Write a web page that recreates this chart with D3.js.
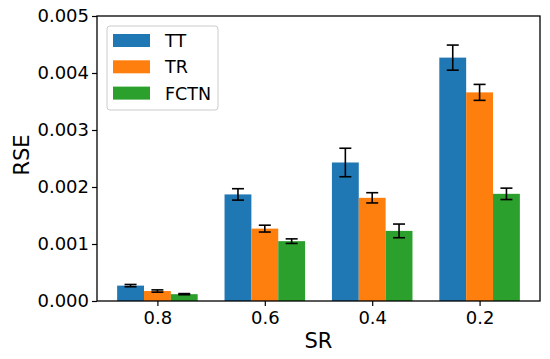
<!DOCTYPE html>
<html>
<head>
<meta charset="utf-8">
<script src="https://cdn.jsdelivr.net/npm/d3@7"></script>
<style>
  body { margin: 0; background: #fff; }
  text { font-family: "DejaVu Sans", sans-serif; }
</style>
</head>
<body>
<svg id="chart"></svg>
<script>
var width = 550, height = 359;

// data
var categories = ["0.8", "0.6", "0.4", "0.2"];
var series = ["TT", "TR", "FCTN"];
var colors = ["#1f77b4", "#ff7f0e", "#2ca02c"];
var ttValues = [0.00027, 0.00187, 0.00243, 0.00427];
var ttErrors = [0.00002, 0.00010, 0.00025, 0.00022];
var trValues = [0.000175, 0.00127, 0.00181, 0.00366];
var trErrors = [0.00002, 0.00006, 0.00009, 0.00014];
var fctnValues = [0.00012, 0.00105, 0.00123, 0.00188];
var fctnErrors = [0.00001, 0.00004, 0.00012, 0.00010];
var yTicks = [0, 0.001, 0.002, 0.003, 0.004, 0.005];

var values = [ttValues, trValues, fctnValues];
var errors = [ttErrors, trErrors, fctnErrors];

var plotL = 97, plotR = 540, plotT = 16, plotB = 301;

var svg = d3.select("#chart")
	.attr("width", width)
	.attr("height", height);

// matplotlib style: group index with 0.25 wide bars and 5% margins
var x = d3.scaleLinear()
	.domain([-0.5625, categories.length - 1 + 0.5625])
	.range([plotL, plotR]);
var y = d3.scaleLinear()
	.domain([0, 0.005])
	.range([plotB, plotT]);

var barW = 0.25;

var rows = [];
series.forEach(function (s, si) {
	categories.forEach(function (c, ci) {
		rows.push({ s: si, c: ci, v: values[si][ci], e: errors[si][ci] });
	});
});

svg.selectAll(".bar")
	.data(rows)
	.enter()
	.append("rect")
	.attr("class", "bar")
	.attr("x", d => x(d.c + (d.s - 1) * barW - barW / 2))
	.attr("width", d => x(barW) - x(0))
	.attr("y", d => y(d.v))
	.attr("height", d => y(0) - y(d.v))
	.attr("fill", d => colors[d.s]);

// error bars
var err = svg.selectAll(".err")
	.data(rows)
	.enter()
	.append("g")
	.attr("class", "err")
	.attr("stroke", "#000")
	.attr("stroke-width", 1.6);
err.append("line")
	.attr("x1", d => x(d.c + (d.s - 1) * barW))
	.attr("x2", d => x(d.c + (d.s - 1) * barW))
	.attr("y1", d => y(d.v - d.e))
	.attr("y2", d => y(d.v + d.e));
[-1, 1].forEach(function (k) {
	err.append("line")
		.attr("x1", d => x(d.c + (d.s - 1) * barW) - 6)
		.attr("x2", d => x(d.c + (d.s - 1) * barW) + 6)
		.attr("y1", d => y(d.v + k * d.e))
		.attr("y2", d => y(d.v + k * d.e));
});

// axes
var yAxis = svg.append("g")
	.attr("transform", "translate(" + plotL + ",0)")
	.call(d3.axisLeft(y).tickValues(yTicks).tickFormat(d3.format(".3f")).tickSize(5).tickPadding(3));
var xAxis = svg.append("g")
	.attr("transform", "translate(0," + plotB + ")")
	.call(d3.axisBottom(x).tickValues(d3.range(categories.length)).tickFormat(i => categories[i]).tickSize(5).tickPadding(5));
[yAxis, xAxis].forEach(function (g) {
	g.select(".domain").remove();
	g.selectAll("line").attr("stroke", "#000").attr("stroke-width", 1.2);
	g.selectAll("text").attr("font-size", "18px").attr("fill", "#000")
		.attr("font-family", "DejaVu Sans");
});

svg.append("rect")
	.attr("x", plotL)
	.attr("y", plotT)
	.attr("width", plotR - plotL)
	.attr("height", plotB - plotT)
	.attr("fill", "none")
	.attr("stroke", "#000")
	.attr("stroke-width", 1.3);

svg.append("text")
	.attr("transform", "translate(29,155) rotate(-90)")
	.attr("text-anchor", "middle")
	.attr("font-size", "21px")
	.text("RSE");
svg.append("text")
	.attr("x", (plotL + plotR) / 2)
	.attr("y", 348)
	.attr("text-anchor", "middle")
	.attr("font-size", "21px")
	.text("SR");

// legend
var legend = svg.append("g");
legend.append("rect")
	.attr("x", 107)
	.attr("y", 26)
	.attr("width", 111)
	.attr("height", 84)
	.attr("rx", 3)
	.attr("fill", "#fff")
	.attr("fill-opacity", 0.8)
	.attr("stroke", "#ccc");
var item = legend.selectAll(".item")
	.data(series)
	.enter()
	.append("g")
	.attr("transform", (d, i) => "translate(113," + (40.5 + i * 26.3) + ")");
item.append("rect")
	.attr("x", 0)
	.attr("y", -6.5)
	.attr("width", 37)
	.attr("height", 13)
	.attr("fill", (d, i) => colors[i]);
item.append("text")
	.attr("x", 52)
	.attr("y", 6.5)
	.attr("font-size", "17.5px")
	.text(d => d);
</script>
</body>
</html>
